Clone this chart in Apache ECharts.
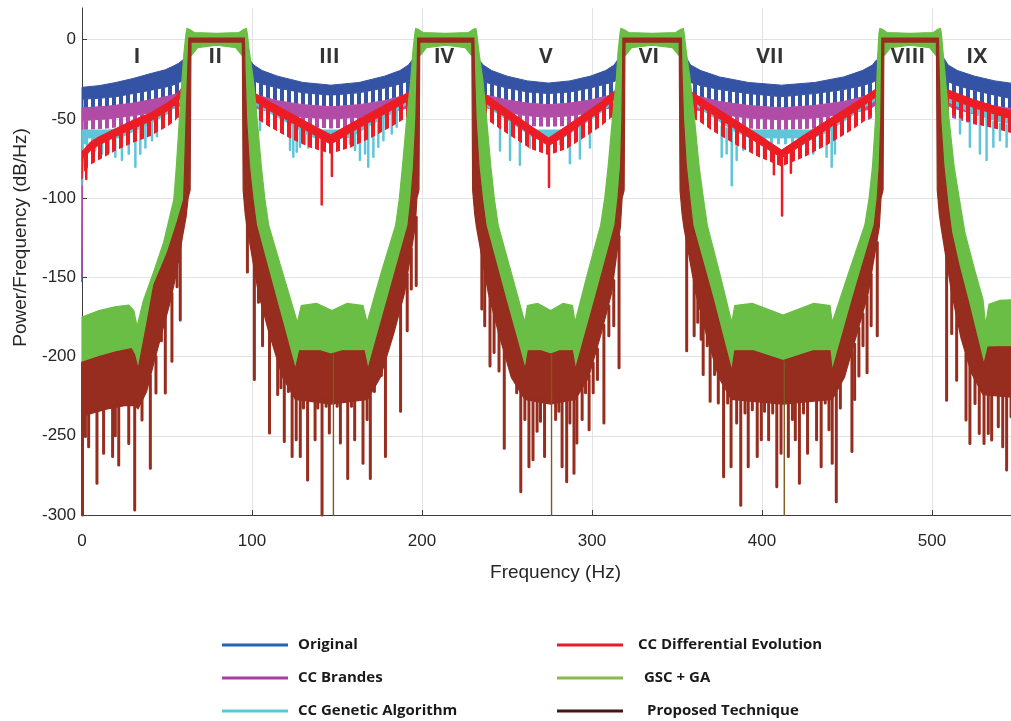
<!DOCTYPE html>
<html>
<head>
<meta charset="utf-8">
<script src="https://cdn.jsdelivr.net/npm/echarts@6/dist/echarts.min.js"></script>
<style>
html,body{margin:0;padding:0;background:#ffffff;}
#chart{width:1011px;height:721px;}
</style>
</head>
<body>
<div id="chart"></div>
<script>
// ---- Power spectral density envelopes, frequency in Hz, level in dB/Hz ----
// Rows: [frequency, band top, band bottom, tooth tip]
const originalRows = [
  [0,-30,-153,-153],[0.6,-30,-37.5,-44],[10,-29,-37,-43.5],[20,-27,-36,-42.5],[30,-24.5,-34,-40.5],
  [40,-21.5,-32,-38.5],[49,-19,-30,-37],[54,-16.5,-28.5,-35.5],[57,-14.8,-27,-34],[59.6,-12.5,-26,-33],
  [60.6,-13,-14,-14],[61.4,1,-2,-2],[97.0,1,-2,-2],[97.8,-13,-14,-14],
  [98.8,-12.9,-24.5,-33],[101,-16,-26,-34],[106,-19.5,-28,-36],[115,-23,-30.5,-38.5],[130,-27,-33.5,-41],
  [146.5,-28.7,-35,-42.4],[163,-27,-33.5,-41],[178,-23,-30.5,-38.5],[187,-19.5,-28,-36],[192,-16,-26,-34],[194.2,-12.9,-24.5,-33],
  [195.2,-13,-14,-14],[196.0,1,-2,-2],[232.0,1,-2,-2],[232.8,-13,-14,-14],
  [233.8,-13,-25,-33],[236,-16,-26.5,-34],[241,-19.5,-28,-36],[250,-23,-30.5,-38],[262,-26,-33,-40],
  [274.3,-27.4,-34,-41],[287,-26,-33,-40],[299,-23,-30.5,-38],[308,-19.5,-28,-36],[313,-16,-26.5,-34],[314.9,-13,-25,-33],
  [315.9,-13,-14,-14],[316.7,1,-2,-2],[354.0,1,-2,-2],[354.8,-13,-14,-14],
  [355.8,-11.9,-25.5,-33],[358,-16,-27,-34.5],[364,-19.5,-29,-36.5],[375,-23.5,-31.5,-39],[392,-27,-34,-41.5],
  [411.5,-28.7,-36,-43],[431,-27,-34,-41.5],[448,-23.5,-31.5,-39],[459,-19.5,-29,-36.5],[465,-16,-27,-34.5],[467.2,-12.9,-25.5,-33],
  [468.2,-13,-14,-14],[469.0,1,-2,-2],[505.3,1,-2,-2],[506.1,-13,-14,-14],
  [507.1,-11.9,-24.3,-32],[509.5,-16,-26.5,-34],[515,-19.5,-29,-36.5],[525,-23,-32,-39.5],[537,-26,-35,-42],[550,-28,-38,-44]
];

const brandesRows = [
  [0,-43,-150,-150],[0.6,-43,-51,-57],[15,-42,-50,-56],[30,-40,-48,-54],[45,-37,-45.5,-52],[55,-34.5,-43,-50],[59.6,-32,-41,-48],
  [60.6,-30,-31,-31],[61.4,1,-2,-2],[97.0,1,-2,-2],[97.8,-30,-31,-31],
  [98.8,-32,-41,-48],[103,-35,-43.5,-50],[115,-38.5,-46.5,-53],[130,-41,-49,-55],[146.5,-42.4,-50,-56],
  [163,-41,-49,-55],[178,-38.5,-46.5,-53],[190,-35,-43.5,-50],[194.2,-32,-41,-48],
  [195.2,-30,-31,-31],[196.0,1,-2,-2],[232.0,1,-2,-2],[232.8,-30,-31,-31],
  [233.8,-32,-40,-47],[238,-35,-43,-49.5],[250,-38,-46,-52.5],[262,-40,-48,-54.5],[274.3,-41,-49,-55],
  [287,-40,-48,-54.5],[299,-38,-46,-52.5],[311,-35,-43,-49.5],[314.9,-32,-40,-47],
  [315.9,-30,-31,-31],[316.7,1,-2,-2],[354.0,1,-2,-2],[354.8,-30,-31,-31],
  [355.8,-32,-41,-48],[360,-35,-44,-50.5],[375,-39,-47,-53.5],[392,-41.5,-49.5,-56],[411.5,-43,-50.5,-57],
  [431,-41.5,-49.5,-56],[448,-39,-47,-53.5],[463,-35,-44,-50.5],[467.2,-32,-41,-48],
  [468.2,-30,-31,-31],[469.0,1,-2,-2],[505.3,1,-2,-2],[506.1,-30,-31,-31],
  [507.1,-32,-40,-47],[512,-35,-43,-49.5],[525,-39,-47,-53.5],[537,-42,-49.5,-55.5],[550,-44,-51,-57]
];

const geneticRows = [
  [0,-57,-92,-92],[0.6,-57,-62,-66],[15,-57,-62,-66],[22,-56,-62,-66],[30,-52,-58,-63],[40,-47,-53,-58],
  [50,-41,-47,-52],[57,-34,-40,-45],[59.6,-31,-37,-42],
  [60.6,-28,-29,-29],[61.4,1,-2,-2],[97.0,1,-2,-2],[97.8,-28,-29,-29],
  [98.8,-33,-39,-44],[110,-40,-46,-51],[122,-47,-53,-58],[134,-55,-61,-65],[138,-57,-62,-66],[146.5,-57,-62,-66],
  [155,-57,-62,-66],[159,-55,-61,-65],[171,-47,-53,-58],[183,-40,-46,-51],[194.2,-33,-39,-44],
  [195.2,-28,-29,-29],[196.0,1,-2,-2],[232.0,1,-2,-2],[232.8,-28,-29,-29],
  [233.8,-33,-39,-44],[245,-41,-47,-52],[256,-49,-55,-60],[266,-57,-62,-66],[274.5,-57,-62,-66],
  [283,-57,-62,-66],[293,-49,-55,-60],[304,-41,-47,-52],[314.9,-32,-38,-43],
  [315.9,-28,-29,-29],[316.7,1,-2,-2],[354.0,1,-2,-2],[354.8,-28,-29,-29],
  [355.8,-32,-38,-43],[370,-42,-48,-53],[384,-52,-58,-62],[393,-57,-62,-66],[411.5,-57,-62,-66],
  [430,-57,-62,-66],[439,-52,-58,-62],[453,-42,-48,-53],[467.2,-32,-38,-43],
  [468.2,-28,-29,-29],[469.0,1,-2,-2],[505.3,1,-2,-2],[506.1,-28,-29,-29],
  [507.1,-32,-38,-43],[515,-36,-42,-47],[525,-41,-47,-52],[537,-45,-51,-56],[550,-48,-54,-59]
];
// [frequency, spike start, spike end]
const geneticSpikes = [
  [2.9,-62,-67.6],[7.8,-62,-70],[11.8,-62,-72],[15.7,-62,-71],[19.6,-62,-73.9],[23.5,-60,-76],[27.5,-60,-72],
  [31.4,-58,-80.2],[34.3,-56,-72],[37.3,-54,-68],[41.2,-52,-63.4],[44.1,-50,-61],
  [101.8,-40,-50.8],[104.7,-42,-57],[122.4,-53,-69.7],[124.3,-54,-73.9],[126.3,-55,-70.8],[128.2,-56,-67.6],
  [131.2,-58,-65.5],[133.1,-59,-68],[157.6,-59,-65.5],[160.6,-57,-69.7],[163.5,-56,-76],[166.5,-55,-71.8],
  [168.4,-54,-80.2],[171.4,-53,-73.9],[174.3,-51,-67.6],[177.3,-49,-63.4],[182.2,-46,-59.2],[185.1,-44,-55],
  [245.9,-47,-70],[251.8,-51,-76],[257.6,-55,-79],[263.5,-58,-68],[281.2,-58,-66],[287,-55,-78],[292.9,-51,-75],[298.8,-47,-68],
  [376.3,-55,-73.9],[379.2,-56,-71.8],[382.2,-57,-91.8],[385.1,-58,-76],[389,-59,-69.7],[392.9,-60,-67.6],[396.9,-61,-65.5],
  [422.4,-61,-65.5],[426.3,-60,-69.7],[430.2,-59,-71.8],[434.1,-58,-67.6],[438,-56,-73.9],[441,-55,-80.2],[442.9,-54,-71.8],
  [516.5,-45,-59.2],[522.3,-47,-67.6],[528.2,-49,-71.8],[532.1,-50,-76],[536.1,-52,-67.6],[540,-53,-63.4],[543.9,-54,-67.6]
];

const differentialRows = [
  [0,-70,-88,-88],[0.6,-70,-75,-84],[5,-64.5,-70,-79],[10,-61.3,-66.5,-76],[20,-56,-61,-70],[30,-50.8,-56,-65],
  [40,-46.4,-51.5,-61],[50,-40,-45,-55],[55,-36,-41,-51],[57,-33,-38,-48],[59.6,-29,-34,-44],
  [60.6,-26,-27,-27],[61.4,1,-2,-2],[97.0,1,-2,-2],[97.8,-26,-27,-27],
  [98.8,-32,-37,-47],[110,-39,-44.5,-55],[122,-46,-51.5,-62],[134,-53,-58.5,-68],[146.3,-60,-66,-72],
  [158,-53,-58.5,-68],[170,-46,-51.5,-62],[182,-39,-44.5,-55],[194.2,-32,-37,-47],
  [195.2,-26,-27,-27],[196.0,1,-2,-2],[232.0,1,-2,-2],[232.8,-26,-27,-27],
  [233.8,-32,-37,-47],[244,-39.5,-45,-55],[254,-47,-52.5,-62],[264,-54.5,-60,-69],[274.5,-62,-67,-73],
  [285,-54.5,-60,-69],[295,-47,-52.5,-62],[305,-39.5,-45,-55],[314.9,-31,-36,-46],
  [315.9,-26,-27,-27],[316.7,1,-2,-2],[354.0,1,-2,-2],[354.8,-26,-27,-27],
  [355.8,-31,-36,-46],[370,-41,-46.5,-57],[384,-50.5,-56,-66],[398,-60,-65.5,-74],[411.5,-69.7,-74.5,-80],
  [425,-60,-65.5,-74],[439,-50.5,-56,-66],[453,-41,-46.5,-57],[467.2,-31,-36,-46],
  [468.2,-26,-27,-27],[469.0,1,-2,-2],[505.3,1,-2,-2],[506.1,-26,-27,-27],
  [507.1,-30.6,-35.5,-45],[515,-34,-39,-49],[525,-38,-43,-53],[537,-42,-47,-56],[550,-46,-51,-60]
];
const differentialSpikes = [
  [2.5,-72,-88],[141,-62,-104],[147,-64,-86],[274.7,-66,-93],[407,-70,-85],[411.8,-74,-111],[417,-70,-84]
];

// [frequency, level]
const gscUpper = [
  [0,-175],[10,-171],[20,-168.5],[27.5,-167.5],[30.5,-171],[32.4,-181],[36,-165],[42,-147],[48,-128],[54,-101],
  [55.5,-80],[57.3,-50],[58.8,-25.5],[60,-8],[61.2,4],
  [61.7,7],[63.2,6.5],[66,4.5],[79.2,4],[92.4,4.5],[95.2,6.5],[96.7,7],[97.2,4],
  [98.5,-8],[100.8,-25.5],[103,-50],[105.5,-80],[107.5,-100],[109.8,-117],[118,-147],[126.7,-178.4],[129,-167.8],
  [138,-166.5],[147,-171],[156,-166.5],[165.3,-167.8],[167.7,-178.4],[176,-147],[184.5,-117],[186.7,-100],
  [188.5,-80],[191,-50],[193.4,-25.5],[194.6,-8],[195.8,4],
  [196.3,7],[197.8,6.5],[200.5,4.5],[214,4],[227.5,4.5],[230.2,6.5],[231.7,7],[232.2,4],
  [233.5,-8],[235.8,-25.5],[238,-50],[240.5,-80],[242.5,-100],[244.8,-117],[252.5,-147],[260.5,-178.4],[262,-167.8],
  [268,-166.5],[275.7,-171],[283,-166.5],[288.5,-167.8],[290,-178.4],[297.5,-147],[305.1,-117],[307.5,-100],
  [309.5,-80],[312,-50],[314.3,-25.5],[315.3,-8],[316.5,4],
  [317,7],[318.5,6.5],[321.5,4.5],[335.3,4],[349.2,4.5],[352.2,6.5],[353.7,7],[354.2,4],
  [355.5,-8],[357.8,-25.5],[360.3,-50],[363,-80],[365.5,-100],[367.8,-117],[375,-147],[382.2,-178.4],[384,-167.8],
  [394.3,-166.5],[412.4,-173.8],[430.4,-166.5],[440,-167.8],[441.3,-178.4],[451,-147],[460.5,-117],[463,-100],
  [465,-80],[466.8,-50],[467.6,-25.5],[468.2,-8],[468.8,4],
  [469.3,7],[470.8,6.5],[473.5,4.5],[487.1,4],[500.8,4.5],[503.5,6.5],[505,7],[505.5,4],
  [506.5,-8],[508,-25.5],[510,-50],[513,-80],[516,-100],[519.4,-122],[525,-145],[530,-164],[531.5,-180],
  [533.5,-167],[540,-164.5],[550,-164]
];
const gscLower = [
  [0,-205],[10,-201],[20,-198],[29,-196],[31,-200],[33,-209],[38,-181],[42.2,-156],[50,-136],[56,-116],
  [59.8,-102],[61.5,-41],[62.5,-11],[62.9,-10],
  [64.5,-9.8],[68,-5],[79.2,-3.5],[90.5,-5],[94,-9.8],[95.5,-10],
  [95.9,-21],[96.8,-51],[98.5,-81],[100.5,-101],[102.6,-118],[114,-163.5],[125.5,-209],[128,-197.4],[140,-197.4],
  [146.5,-199.5],[153,-197.4],[166,-197.4],[168.2,-209],[180,-163.5],[191.8,-118],[193.5,-101],[195,-81],
  [196.4,-51],[197.1,-21],[197.5,-10],
  [199.1,-9.8],[202.6,-5],[214,-3.5],[225.4,-5],[229,-9.8],[230.5,-10],
  [230.9,-21],[231.8,-51],[233.5,-81],[235.5,-101],[237.6,-118],[249,-163.5],[260.7,-209],[262.5,-197.4],[270,-197.4],
  [275.7,-199.5],[281,-197.4],[288.5,-197.4],[290.3,-209],[302,-163.5],[313.5,-118],[315.3,-101],[316.8,-81],
  [317.6,-51],[318,-21],[318.2,-10],
  [319.8,-9.8],[323.3,-5],[335.3,-3.5],[347.3,-5],[351,-9.8],[352.5,-10],
  [352.9,-21],[353.8,-51],[355.5,-81],[357.5,-101],[359.3,-118],[371,-163.5],[382.2,-210],[384,-197.4],[395,-197.4],
  [412.4,-203.5],[430,-197.4],[440,-197.4],[441.3,-210],[453.5,-163.5],[466,-118],[467.8,-101],[469,-81],
  [469.9,-51],[470.3,-21],[470.5,-10],
  [472.1,-9.8],[475.6,-5],[487.1,-3.5],[498.6,-5],[502.2,-9.8],[503.8,-10],
  [504.2,-21],[505.1,-51],[507,-81],[509.5,-106],[511.6,-123],[516,-144],[521.2,-165.4],[530.5,-206],[533,-195],
  [540,-194.8],[550,-194.8]
];

const proposedUpper = [
  [0,-203.6],[10,-200],[20,-197],[29,-195],[31,-199],[33,-208],[38,-180],[42.2,-155],[50,-135],[56,-115],
  [59.8,-101],[61.5,-40],[62.5,-10],[62.9,1],[95.5,1],
  [95.9,-20],[96.8,-50],[98.5,-80],[100.5,-100],[102.6,-117],[114,-162.5],[125.5,-208],[128,-196.4],[140,-196.4],
  [146.5,-198.5],[153,-196.4],[166,-196.4],[168.2,-208],[180,-162.5],[191.8,-117],[193.5,-100],[195,-80],
  [196.4,-50],[197.1,-20],[197.5,1],[230.5,1],
  [230.9,-20],[231.8,-50],[233.5,-80],[235.5,-100],[237.6,-117],[249,-162.5],[260.7,-208],[262.5,-196.4],[270,-196.4],
  [275.7,-198.5],[281,-196.4],[288.5,-196.4],[290.3,-208],[302,-162.5],[313.5,-117],[315.3,-100],[316.8,-80],
  [317.6,-50],[318,-20],[318.2,1],[352.5,1],
  [352.9,-20],[353.8,-50],[355.5,-80],[357.5,-100],[359.3,-117],[371,-162.5],[382.2,-209],[384,-196.4],[395,-196.4],
  [412.4,-202.5],[430,-196.4],[440,-196.4],[441.3,-209],[453.5,-162.5],[466,-117],[467.8,-100],[469,-80],
  [469.9,-50],[470.3,-20],[470.5,1],[503.8,1],
  [504.2,-20],[505.1,-50],[507,-80],[509.5,-105],[511.6,-122],[516,-143],[521.2,-164.4],[530.5,-205],[533,-194],
  [540,-193.8],[550,-193.8]
];
const proposedLower = [
  [0,-300],[0.4,-238],[5,-236],[15,-233],[25,-231],[31,-231],[33,-233],[38,-222],[42,-205],[47,-185],[52,-165],
  [56,-145],[59,-125],[61.2,-112],[62.4,-100],[63.6,-95],[64.1,-1.5],
  [94.3,-1.5],[94.8,-95],[96,-110],[97,-118],[103.8,-160],[110,-185],[118,-213],[125.5,-227],[146.5,-230],
  [168,-227],[175.5,-213],[183.5,-185],[189.7,-160],[196,-118],[197,-100],[198.2,-95],[198.7,-1.5],
  [229.3,-1.5],[229.8,-95],[231,-110],[232,-118],[239,-160],[245,-185],[252.5,-213],[260.5,-227],[275.7,-230],
  [290.3,-227],[298,-213],[305.5,-185],[311.5,-160],[316.7,-118],[317.7,-100],[318.9,-95],[319.4,-1.5],
  [351.3,-1.5],[351.8,-95],[353,-110],[354,-118],[361,-160],[367,-185],[374.5,-213],[382,-227],[412.4,-230],
  [441.3,-227],[448.5,-213],[456,-185],[462.5,-160],[469,-118],[470,-100],[471.2,-95],[471.7,-1.5],
  [502.6,-1.5],[503.1,-95],[504.3,-110],[505.3,-118],[511.6,-160],[517,-188],[523,-210],[530,-224],[550,-226]
];
const proposedSpikes = [
  [0.3,-204,-300],[2,-234,-250.5],[3.9,-234,-257],[8.8,-233,-280],[12.7,-232,-261],[18,-232,-263],[19.6,-231,-250],
  [21.6,-231,-268.4],[27.5,-230,-254.8],[31,-230,-296.8],[35.3,-226,-240],[40.2,-212,-270.5],[43.5,-200,-223],
  [46.7,-180,-190],[49,-172,-223],[52.9,-160,-203],[55.9,-143,-156],[57.8,-130,-177],
  [97.3,-115,-146.7],[101.4,-135,-214.4],[103.8,-155,-165.7],[106.2,-168,-193.2],[110.3,-184,-248.3],
  [115.1,-198,-224],[117,-205,-219.7],[119,-210,-253.6],[121.4,-216,-222],[123.6,-220,-263.1],[126,-225,-252.5],
  [128.4,-226,-263.1],[130.3,-226,-232.4],[132.7,-226,-277.9],[137.1,-226,-252.5],[138.7,-226,-232.4],
  [141.2,-226,-300],[143.6,-226,-231.4],[145.5,-226,-248.3],[150.1,-226,-231.4],[152,-226,-254.6],
  [156.3,-226,-276.9],[158.5,-226,-231.4],[160.4,-226,-252.5],[165.3,-226,-267.4],[167.7,-226,-239.8],
  [169.6,-224,-276.9],[172,-218,-222],[176.1,-208,-212],[178.5,-200,-263.1],[187.4,-168,-234.5],
  [191.3,-148,-183.7],[193.7,-132,-157.3],[196.6,-112,-155.1],
  [235.2,-128,-170],[236.9,-135,-180.5],[240,-162,-205.9],[242.4,-170,-197.5],[245.3,-184,-209.1],[248.4,-196,-257.8],
  [255.7,-216,-222.9],[258.1,-222,-285.4],[260.5,-226,-239.8],[262.9,-227,-269.5],[265.3,-227,-265.2],
  [267.7,-227,-247.2],[269.7,-227,-240.9],[272.1,-227,-263.1],[278.6,-227,-239.8],[280.5,-227,-234.5],
  [282.4,-227,-269.5],[285.1,-227,-279],[287,-227,-242],[289.4,-226,-273.7],[291.1,-225,-254.6],[294.2,-219,-239.8],
  [296.2,-215,-222.9],[298.3,-212,-246.2],[300.7,-204,-222.9],[303.2,-195,-214.4],[307,-180,-242],
  [309.9,-168,-186.9],[312.8,-152,-180.5],[315.9,-124,-207],
  [355.7,-125,-196.4],[360.1,-152,-186.9],[362.2,-162,-178.4],[364.2,-172,-189],[365.4,-176,-211.3],
  [367.8,-184,-193.2],[369.5,-190,-228.2],[372.1,-200,-211.3],[374.3,-210,-229.3],[377.4,-218,-275.8],
  [379.8,-222,-229.3],[381.8,-225,-269.5],[385.1,-227,-242],[387.5,-227,-293.8],[390,-227,-235.6],
  [391.9,-227,-269.5],[394.3,-227,-233.5],[397.2,-227,-263.1],[399.6,-227,-252.5],[401.5,-227,-234.5],
  [403.9,-227,-252.5],[406.3,-227,-235.6],[408.7,-227,-282.2],[411.2,-227,-261],[415.5,-227,-263.1],
  [417.9,-227,-239.8],[419.6,-227,-252.5],[422,-227,-280],[424.4,-227,-235.6],[426.8,-227,-261],
  [432.1,-227,-252.5],[434.8,-227,-269.5],[437.2,-227,-229.3],[439.4,-226,-246.2],[441.3,-225,-267.4],
  [443.7,-222,-291.7],[446.1,-216,-232.4],[452.9,-197,-259.9],[454.5,-192,-227.1],[457,-182,-212.3],
  [459.4,-173,-193.2],[461.8,-162,-210.2],[464.2,-148,-180.5],[467.8,-128,-186.9],
  [508.6,-135,-227.5],[511.6,-157,-185.4],[514.5,-172,-214.9],[520,-198,-240],[522.3,-206,-254.8],
  [525.3,-213,-229.6],[527.8,-218,-248.5],[530.6,-222,-254.8],[533.1,-223,-248.5],[535.1,-223,-252.7],
  [539,-223,-244.3],[541.6,-223,-256.9],[543.9,-223,-271.6],[546.5,-223,-238]
];
const proposedNotches = [[147.9,-199,-300],[276.2,-199,-300],[413.1,-203,-300]];

// Band markers along the frequency axis
const regionNames = ['I','II','III','IV','V','VI','VII','VIII','IX'];
const regionFreq = [32.4,78.4,145.5,212.9,272.9,333.5,404.7,485.9,526.3];
const regionLevel = -11;

const seriesNames = ['Original','CC Brandes','CC Genetic Algorithm','CC Differential Evolution','GSC + GA','Proposed Technique'];

// ---- drawing helpers ----
function stripes(color, period, width) {
  const c = document.createElement('canvas');
  c.width = period; c.height = 4;
  const g = c.getContext('2d');
  g.fillStyle = color;
  g.fillRect(0, 0, width, 4);
  return { image: c, repeat: 'repeat' };
}

function spikeLines(api, list, color, width) {
  return list.map(s => {
    const a = api.coord([s[0], s[1]]);
    const b = api.coord([s[0], s[2]]);
    return { type: 'line', shape: { x1: a[0], y1: a[1], x2: b[0], y2: b[1] },
             style: { stroke: color, lineWidth: width, lineCap: 'round' } };
  });
}

function rowSeries(name, rows, color, comb, spikes, spikeWidth) {
  return {
    type: 'custom', name: name, data: [[0, 0]], animation: false, silent: true,
    itemStyle: { color: color },
    renderItem: function (params, api) {
      const top = rows.map(r => api.coord([r[0], r[1]]));
      const bottom = rows.map(r => api.coord([r[0], r[2]]));
      const tip = rows.map(r => api.coord([r[0], r[3]]));
      const kids = [
        { type: 'polygon', shape: { points: bottom.concat(tip.slice().reverse()) }, style: { fill: comb } },
        { type: 'polygon', shape: { points: top.concat(bottom.slice().reverse()) },
          style: { fill: color, stroke: color, lineWidth: 1 } }
      ];
      return { type: 'group', children: kids.concat(spikeLines(api, spikes || [], color, spikeWidth)) };
    }
  };
}

function envelopeSeries(name, upper, lower, color, spikes, notches) {
  return {
    type: 'custom', name: name, data: [[0, 0]], animation: false, silent: true,
    itemStyle: { color: color },
    renderItem: function (params, api) {
      const up = upper.map(p => api.coord(p));
      const lo = lower.map(p => api.coord(p));
      let kids = [{ type: 'polygon', shape: { points: up.concat(lo.slice().reverse()) },
                    style: { fill: color, stroke: color, lineWidth: 1.2 } }];
      if (spikes) kids = kids.concat(spikeLines(api, spikes, color, 3));
      if (notches) kids = kids.concat(spikeLines(api, notches, '#7d5a22', 1.4));
      return { type: 'group', children: kids };
    }
  };
}

const colors = {
  original: '#3553a5', brandes: '#b24ba6', genetic: '#5fc6d9',
  differential: '#ec1c24', gsc: '#6abe45', proposed: '#962d1e'
};
const legendColors = ['#2565b0', '#a83fa0', '#5bc8d9', '#e31e2b', '#86bc4e', '#4a1212'];

const axisFont = { fontFamily: 'Liberation Sans', fontSize: 17, color: '#262626' };

const chart = echarts.init(document.getElementById('chart'), null, { renderer: 'canvas' });

function legendBlock(names, colorsList, left, pads) {
  return {
    orient: 'vertical', left: left, top: 635, padding: 0, itemGap: 13,
    itemWidth: 66, itemHeight: 3, icon: 'rect', selectedMode: false,
    textStyle: { fontFamily: 'Open Sans', fontWeight: 'bold', fontSize: 15, color: '#1a1a1a', lineHeight: 20 },
    data: names.map((n, i) => ({ name: n, itemStyle: { color: colorsList[i] },
      textStyle: { padding: [0, 0, 0, pads[i]] } }))
  };
}

chart.setOption({
  animation: false,
  backgroundColor: '#ffffff',
  grid: { left: 82, right: -6, top: 8, bottom: 206, containLabel: false, outerBoundsMode: 'none' },
  xAxis: {
    type: 'value', min: 0, max: 550, interval: 100,
    name: 'Frequency (Hz)', nameLocation: 'middle', nameGap: 48,
    nameTextStyle: { fontFamily: 'Liberation Sans', fontSize: 19, color: '#262626', padding: [0, 0, 0, 12] },
    axisLine: { show: true, onZero: false, lineStyle: { color: '#3c3c3c', width: 1 } },
    axisTick: { show: true, inside: true, length: 5, lineStyle: { color: '#3c3c3c' } },
    axisLabel: Object.assign({ margin: 18, showMaxLabel: false }, axisFont),
    splitLine: { show: true, lineStyle: { color: '#e2e2e2', width: 1 } }
  },
  yAxis: {
    type: 'value', min: -300, max: 20, interval: 50,
    name: 'Power/Frequency (dB/Hz)', nameLocation: 'middle', nameGap: 52, nameRotate: 90,
    nameTextStyle: { fontFamily: 'Liberation Sans', fontSize: 19, color: '#262626', padding: [0, 0, 0, 48] },
    axisLine: { show: true, onZero: false, lineStyle: { color: '#3c3c3c', width: 1 } },
    axisTick: { show: true, inside: true, length: 5, lineStyle: { color: '#3c3c3c' } },
    axisLabel: Object.assign({ margin: 6, showMaxLabel: false }, axisFont),
    splitLine: { show: true, lineStyle: { color: ['#e2e2e2','#e2e2e2','#e2e2e2','#e2e2e2','#e2e2e2','#e2e2e2','#e2e2e2','rgba(0,0,0,0)'], width: 1 } }
  },
  legend: [
    legendBlock(seriesNames.slice(0, 3), legendColors.slice(0, 3), 222, [5, 5, 5]),
    legendBlock(seriesNames.slice(3), legendColors.slice(3), 557, [10, 16, 19])
  ],
  series: [
    rowSeries(seriesNames[0], originalRows, colors.original, stripes(colors.original, 7, 4)),
    rowSeries(seriesNames[1], brandesRows, colors.brandes, stripes(colors.brandes, 7, 4)),
    rowSeries(seriesNames[2], geneticRows, colors.genetic, stripes(colors.genetic, 7, 3), geneticSpikes, 2.5),
    rowSeries(seriesNames[3], differentialRows, colors.differential, stripes(colors.differential, 7, 4), differentialSpikes, 2.5),
    envelopeSeries(seriesNames[4], gscUpper, gscLower, colors.gsc),
    envelopeSeries(seriesNames[5], proposedUpper, proposedLower, colors.proposed, proposedSpikes, proposedNotches),
    {
      type: 'scatter', name: 'bands', silent: true, animation: false,
      symbolSize: 1, itemStyle: { color: 'rgba(0,0,0,0)' },
      data: regionFreq.map((f, i) => ({ value: [f, regionLevel], name: regionNames[i] })),
      label: { show: true, position: 'inside', formatter: '{b}',
               fontFamily: 'Open Sans', fontWeight: 'bold', fontSize: 21, color: '#000000' }
    }
  ]
});
</script>
</body>
</html>
